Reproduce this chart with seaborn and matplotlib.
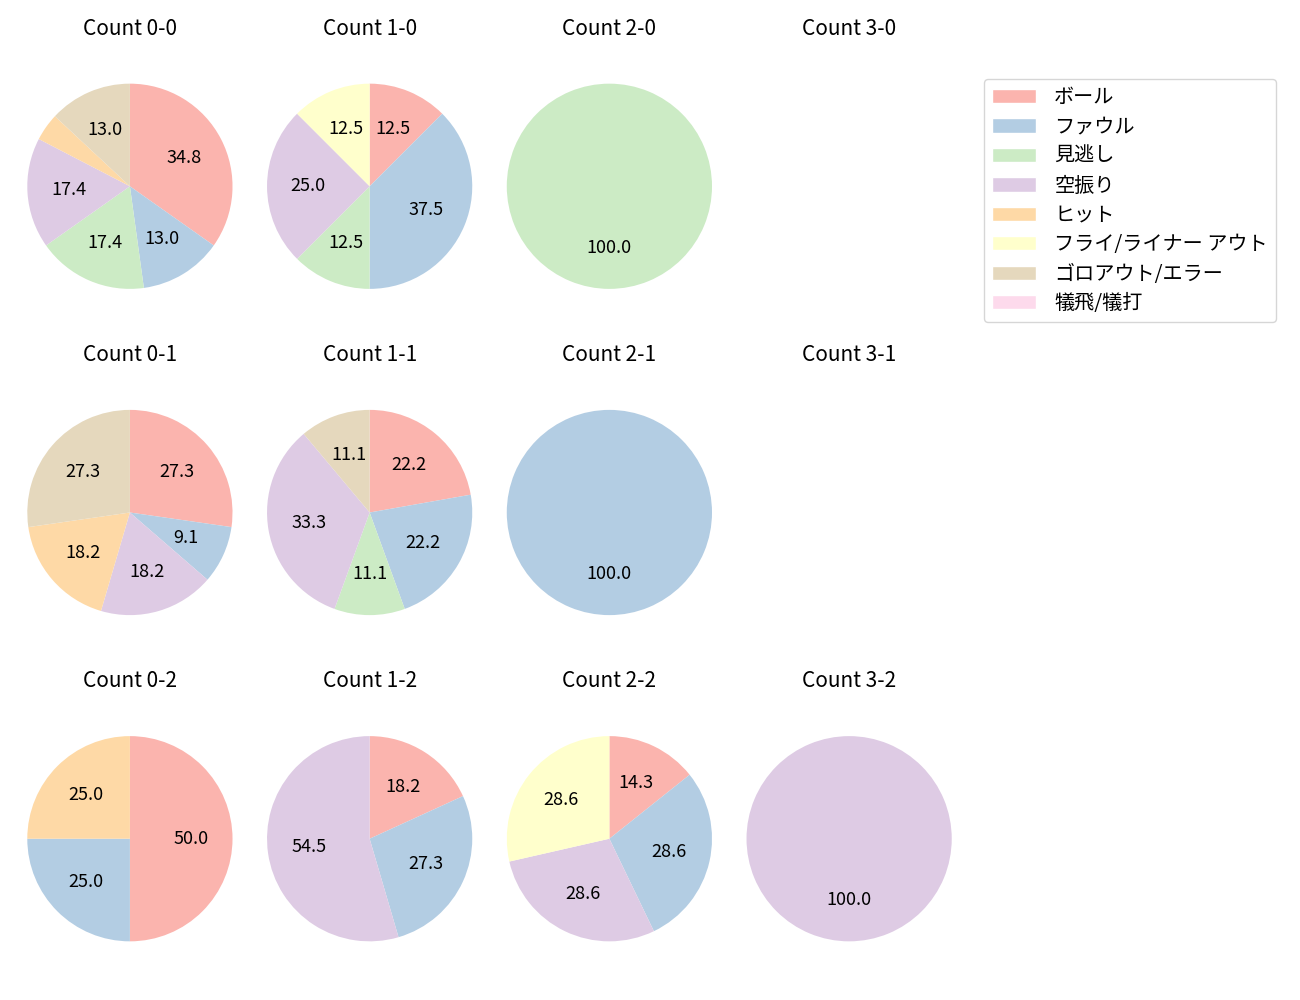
import numpy as np
import matplotlib
matplotlib.use('Agg')
from matplotlib import pyplot as plt
from matplotlib.patches import Patch
import seaborn as sns

sns.set_theme(style='white')
plt.rcParams['font.family'] = ['Noto Sans CJK JP', 'DejaVu Sans']
plt.rcParams['text.color'] = 'black'

labels = ['ボール', 'ファウル', '見逃し', '空振り', 'ヒット',
          'フライ/ライナー アウト', 'ゴロアウト/エラー', '犠飛/犠打']

# pitch counts per result, same order as labels
count_00 = [8, 3, 4, 4, 1, 0, 3, 0]
count_10 = [1, 3, 1, 2, 0, 1, 0, 0]
count_20 = [0, 0, 1, 0, 0, 0, 0, 0]
count_30 = [0, 0, 0, 0, 0, 0, 0, 0]
count_01 = [3, 1, 0, 2, 2, 0, 3, 0]
count_11 = [2, 2, 1, 3, 0, 0, 1, 0]
count_21 = [0, 1, 0, 0, 0, 0, 0, 0]
count_31 = [0, 0, 0, 0, 0, 0, 0, 0]
count_02 = [2, 1, 0, 0, 1, 0, 0, 0]
count_12 = [2, 3, 0, 6, 0, 0, 0, 0]
count_22 = [1, 2, 0, 2, 0, 2, 0, 0]
count_32 = [0, 0, 0, 1, 0, 0, 0, 0]

grid = [
    [('0-0', count_00), ('1-0', count_10), ('2-0', count_20), ('3-0', count_30)],
    [('0-1', count_01), ('1-1', count_11), ('2-1', count_21), ('3-1', count_31)],
    [('0-2', count_02), ('1-2', count_12), ('2-2', count_22), ('3-2', count_32)],
]

colors = sns.color_palette('Pastel1', 8)

def pct(p):
    return '%.1f' % p if p >= 5 else ''

fig, axes = plt.subplots(3, 4, figsize=(13, 10))
plt.subplots_adjust(left=0.0131, right=0.74, top=0.927, bottom=0.048,
                    wspace=0.062, hspace=0.44)

for r, row in enumerate(grid):
    for c, (name, vals) in enumerate(row):
        ax = axes[r][c]
        ax.set_title('Count ' + name, fontsize=15, pad=28, color='black')
        vals = np.array(vals, dtype=float)
        if vals.sum() > 0:
            ax.pie(vals, colors=colors, startangle=90, counterclock=False,
                   autopct=pct, textprops={'fontsize': 13, 'color': 'black'},
                   wedgeprops={'linewidth': 0})
        ax.set_xlim(-1.1, 1.1)
        ax.set_ylim(-1.1, 1.1)
        ax.set_aspect('equal')
        ax.axis('off')

handles = [Patch(facecolor=colors[i], label=labels[i]) for i in range(len(labels))]
fig.legend(handles=handles, loc='upper left', bbox_to_anchor=(0.749, 0.931),
           fontsize=14.5, handlelength=2.2, handletextpad=0.9, labelspacing=0.42,
           frameon=True)

plt.savefig('out.png', dpi=100)
